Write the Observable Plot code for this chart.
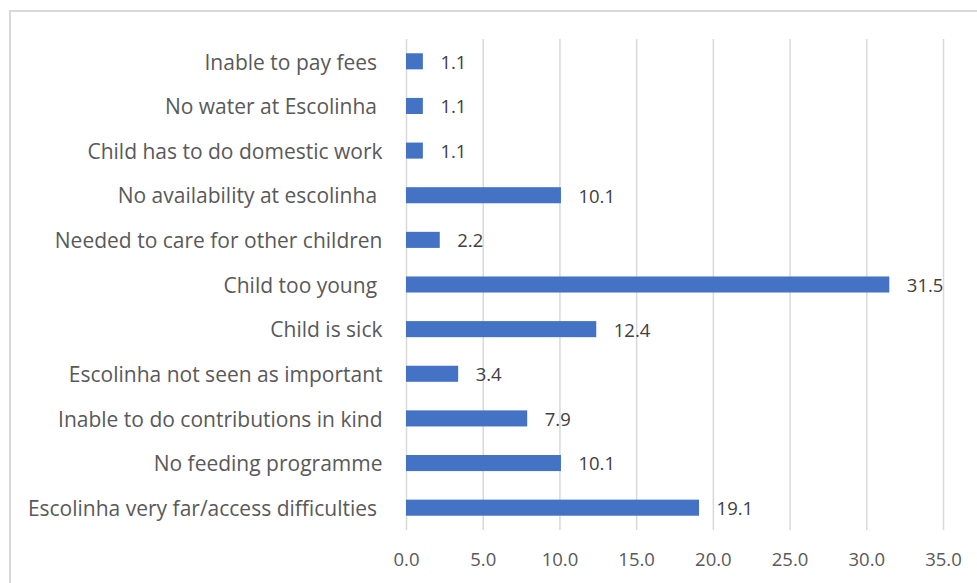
<!DOCTYPE html>
<html>
<head>
<meta charset="utf-8">
<script src="https://cdn.jsdelivr.net/npm/d3@7"></script>
<script src="https://cdn.jsdelivr.net/npm/@observablehq/plot@0.6"></script>
<style>
  html, body { margin: 0; padding: 0; background: #ffffff; }
  #wrap { position: relative; width: 977px; height: 583px; overflow: hidden; }
  #frame { position: absolute; left: 9px; top: 10px; width: 1000px; height: 600px; border: 2px solid #d9d9d9; box-sizing: border-box; }
  #chart { position: absolute; left: 0; top: 0; }
</style>
</head>
<body>
<div id="wrap"><div id="frame"></div><div id="chart"></div></div>
<script>
const categories = [
  "Inable to pay fees\u00a0",
  "No water at Escolinha\u00a0",
  "Child has to do domestic work",
  "No availability at escolinha\u00a0",
  "Needed to care for other children",
  "Child too young\u00a0",
  "Child is sick",
  "Escolinha not seen as important",
  "Inable to do contributions in kind",
  "No feeding programme",
  "Escolinha very far/access difficulties\u00a0"
];
const values = [1.1, 1.1, 1.1, 10.1, 2.2, 31.5, 12.4, 3.4, 7.9, 10.1, 19.1];
const xTicks = [0, 5, 10, 15, 20, 25, 30, 35];

const data = categories.map((c, i) => ({category: c, value: values[i]}));
const font = "'Open Sans', sans-serif";

const chart = Plot.plot({
  width: 977,
  height: 583,
  marginLeft: 406,
  marginRight: 34,
  marginTop: 39,
  marginBottom: 53,
  style: {fontFamily: font, fontSize: "18px", color: "#595959", background: "transparent"},
  x: {domain: [0, 35], label: null},
  y: {domain: categories, paddingInner: 0.64, paddingOuter: 0.32, round: false, label: null},
  marks: [
    Plot.gridX(xTicks, {stroke: "#d9d9d9", strokeOpacity: 1, strokeWidth: 1.5}),
    Plot.barX(data, {x: "value", y: "category", fill: "#4472C4"}),
    Plot.text(data, {x: "value", y: "category", text: d => d.value.toFixed(1), dx: 17, dy: 1, textAnchor: "start", fill: "#404040", fontSize: 18.5}),
    Plot.axisX(xTicks, {tickSize: 0, tickPadding: 22, tickFormat: d => d.toFixed(1), fill: "#595959", fontSize: 18.5, label: null}),
    Plot.axisY(categories, {tickSize: 0, tickPadding: 24, dy: 1, fill: "#595959", fontSize: 21, label: null})
  ]
});
document.getElementById("chart").appendChild(chart);
</script>
</body>
</html>
